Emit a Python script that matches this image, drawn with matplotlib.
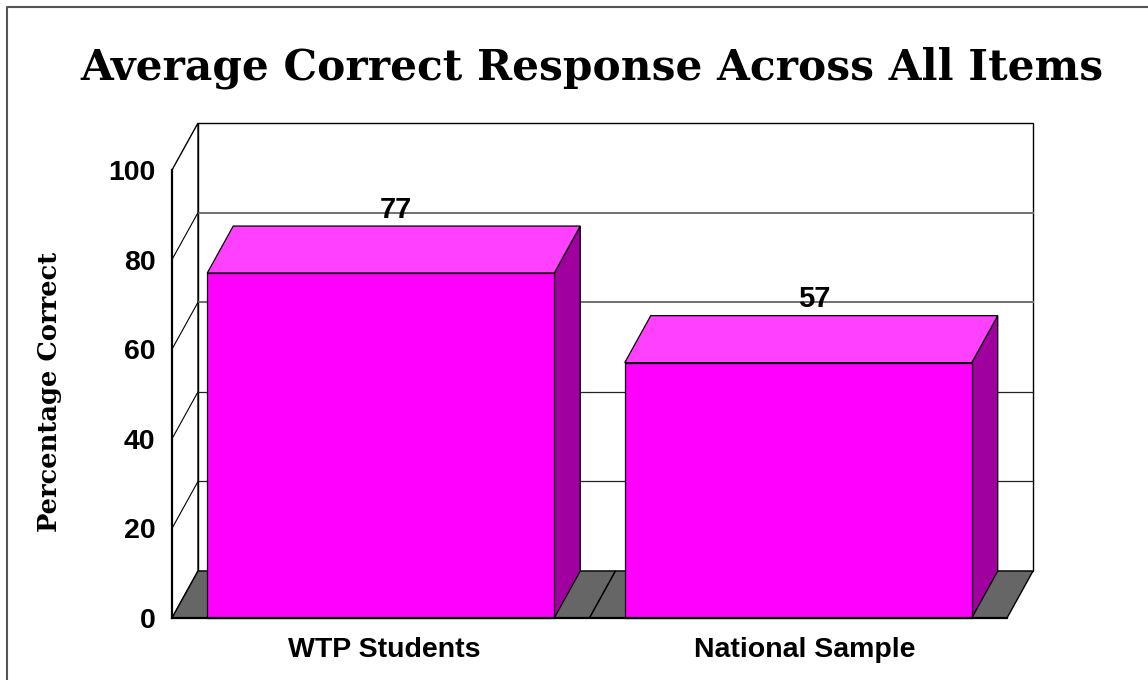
# -*- coding: utf-8 -*-
import matplotlib
matplotlib.use("Agg")
import matplotlib.pyplot as plt
from matplotlib.patches import Polygon

categories = ['WTP Students', 'National Sample']
values = [77, 57]
yticks = [0, 20, 40, 60, 80, 100]

W, H = 1148, 680
MAGENTA = '#ff00ff'
TOP = '#ff40ff'
SIDE = '#a000a0'
FLOOR = '#666666'

# 3d look, in data units: one category is 417.5 px, 100 % is 448 px
DX = 26 / 417.5
DY = 47 / 4.48
BARW = 347 / 417.5
GAP = 35.25 / 417.5


def poly(ax, pts, fc, ec='black', lw=1.0, z=2):
    ax.add_patch(Polygon(pts, closed=True, facecolor=fc, edgecolor=ec,
                         linewidth=lw, zorder=z, clip_on=False,
                         joinstyle='miter'))


def line(ax, xs, ys, color='black', lw=1.0, z=1):
    ax.plot(xs, ys, color=color, linewidth=lw, zorder=z, clip_on=False,
            solid_capstyle='projecting')


fig = plt.figure(figsize=(W / 100, H / 100), dpi=100)
# frame, only left and top show in the picture
fig.add_artist(plt.Line2D([6.5 / W, 6.5 / W, 1], [0, 1 - 6.5 / H, 1 - 6.5 / H],
                          color='#555555', linewidth=1.5,
                          transform=fig.transFigure))
ax = fig.add_axes([172 / W, 1 - 618 / H, 835 / W, 448 / H])
ax.patch.set_visible(False)
ax.set_xlim(0, 2)
ax.set_ylim(0, 100)
for s in ax.spines.values():
    s.set_visible(False)

# back wall and left wall
poly(ax, [(DX, DY), (DX, 100 + DY), (2 + DX, 100 + DY), (2 + DX, DY)],
     'white', z=1)
poly(ax, [(0, 0), (DX, DY), (DX, 100 + DY), (0, 100)], 'white', z=1)
# floor, one piece per category
for i in range(len(categories)):
    poly(ax, [(i, 0), (i + DX, DY), (i + 1 + DX, DY), (i + 1, 0)], FLOOR, z=1.1)
for t in yticks[1:-1]:
    if t in (60, 80):
        line(ax, [DX, 2 + DX], [t + DY, t + DY], color='#707070', lw=1.4, z=1.2)
    else:
        line(ax, [DX, 2 + DX], [t + DY, t + DY], color='#222222', lw=0.9, z=1.2)
    line(ax, [0, DX], [t, t + DY], lw=0.8, z=1.2)

# bars
for i, v in enumerate(values):
    x0 = i + GAP
    x1 = x0 + BARW
    poly(ax, [(x1, 0), (x1 + DX, DY), (x1 + DX, v + DY), (x1, v)], SIDE,
         lw=0.9, z=3)
    poly(ax, [(x0, v), (x0 + DX, v + DY), (x1 + DX, v + DY), (x1, v)], TOP,
         lw=0.9, z=3)
    poly(ax, [(x0, 0), (x0, v), (x1, v), (x1, 0)], MAGENTA, lw=0.9, z=4)
    ax.text((x0 + x1) / 2 + DX * 0.6, v + DY + 0.55, str(v), ha='center',
            va='bottom', fontsize=21, fontweight='bold', family='Liberation Sans',
            color='black', zorder=6)

# axes lines on the front plane
line(ax, [0, 0], [0, 100], lw=1.6, z=5)
line(ax, [0, 2], [0, 0], lw=1.6, z=5)

ax.set_xticks([0.508, 1.516])
ax.set_xticklabels(categories, fontsize=20.5, fontweight='bold',
                   family='Liberation Sans')
ax.set_yticks(yticks)
ax.set_yticklabels([str(t) for t in yticks], fontsize=20.5, fontweight='bold',
                   family='Liberation Sans')
ax.tick_params(axis='both', length=0)
ax.tick_params(axis='x', pad=13.5)
ax.tick_params(axis='y', pad=12)

fig.text(49 / W, 1 - 392 / H, 'Percentage Correct', rotation=90, ha='center',
         va='center', fontsize=18.5, fontweight='bold', family='DejaVu Serif')
fig.text(592 / W, 1 - 68 / H, 'Average Correct Response Across All Items',
         ha='center', va='center', fontsize=30.4, fontweight='bold',
         family='DejaVu Serif')

plt.savefig('out.png', dpi=100)
plt.close()
